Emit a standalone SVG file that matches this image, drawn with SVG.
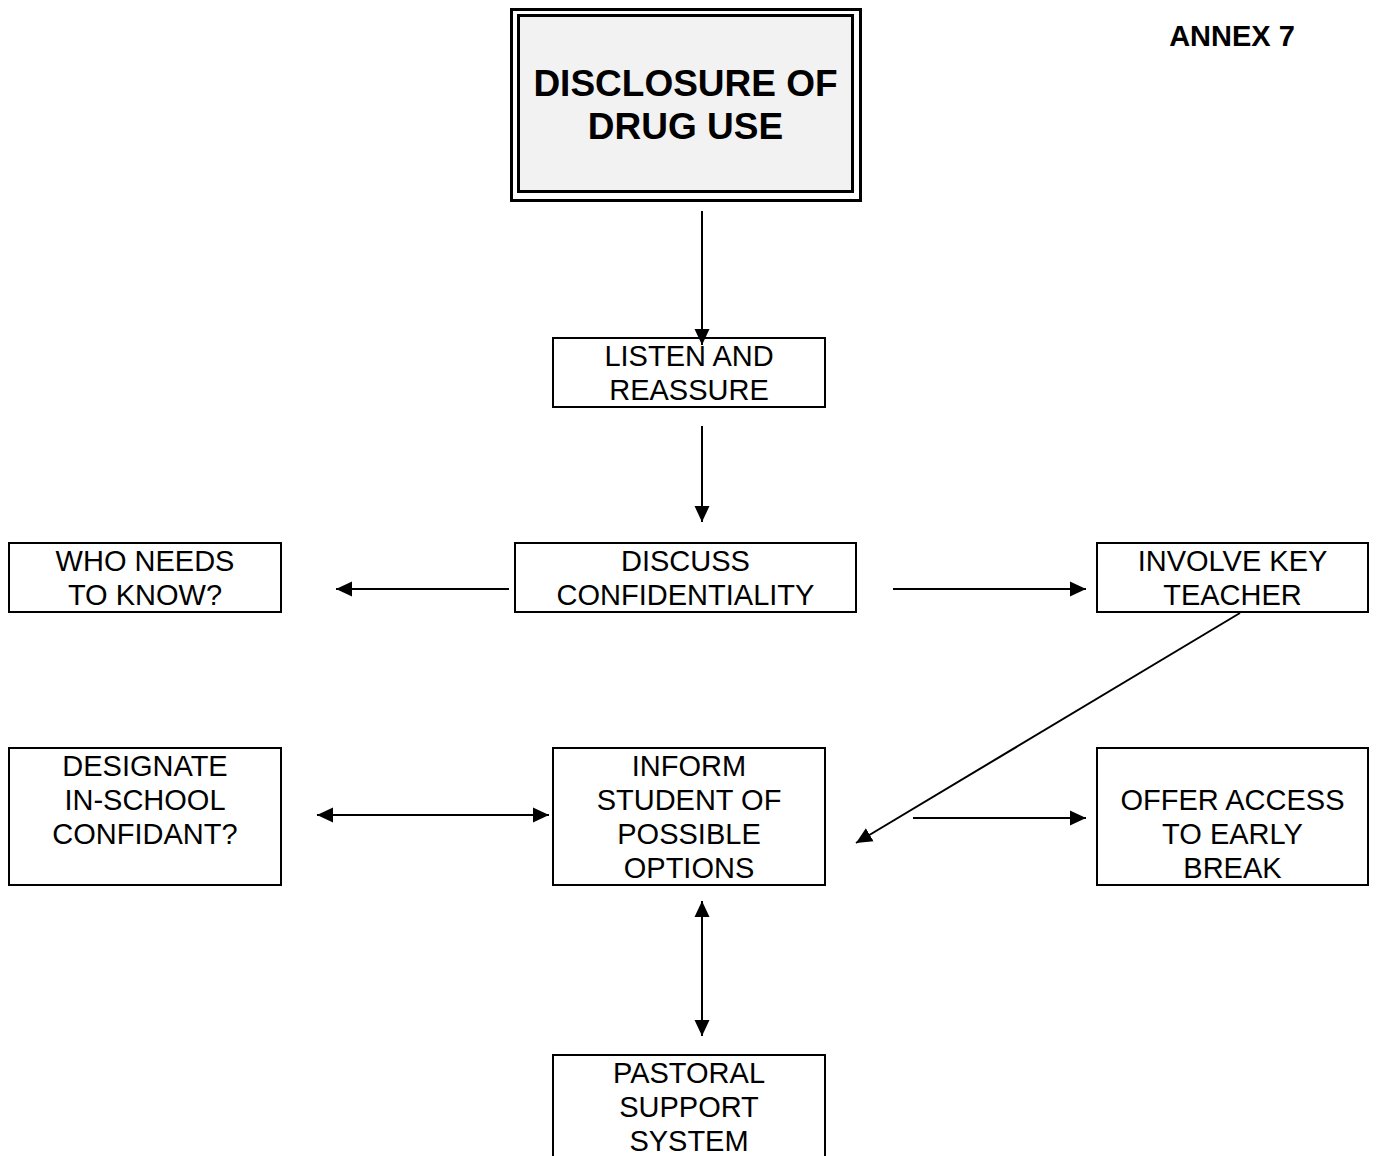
<svg xmlns="http://www.w3.org/2000/svg" width="1377" height="1156" viewBox="0 0 1377 1156">
<defs>
<style>
.box{fill:#fff;stroke:#000;stroke-width:2}
.t{font-family:"Liberation Sans",Arial,sans-serif;font-size:29px;fill:#000;text-anchor:middle}
.b{font-weight:bold}
.c{stroke:#000;stroke-width:2;fill:none}
</style>
<marker id="ah" viewBox="0 0 16 16" refX="16" refY="8" markerWidth="16" markerHeight="16" markerUnits="userSpaceOnUse" orient="auto-start-reverse">
<path d="M0,0.5 L16,8 L0,15.5 Z" fill="#000"/>
</marker>
</defs>
<rect width="1377" height="1156" fill="#fff"/>
<text class="t b" x="1232" y="46">ANNEX 7</text>
<g id="n-disclosure">
<rect x="511.5" y="9.5" width="349" height="191" fill="none" stroke="#000" stroke-width="3"/>
<rect x="518.5" y="15.5" width="334" height="176" fill="#f2f2f2" stroke="#000" stroke-width="3"/>
<text class="t b" style="font-size:37px" x="685.5" y="96">DISCLOSURE OF</text>
<text class="t b" style="font-size:37px" x="685.5" y="139">DRUG USE</text>
</g>
<g id="n-listen">
<rect class="box" x="553" y="338" width="272" height="69"/>
<text class="t" x="689" y="366">LISTEN AND</text>
<text class="t" x="689" y="400">REASSURE</text>
</g>
<g id="n-discuss">
<rect class="box" x="515" y="543" width="341" height="69"/>
<text class="t" x="685.5" y="571">DISCUSS</text>
<text class="t" x="685.5" y="605">CONFIDENTIALITY</text>
</g>
<g id="n-who">
<rect class="box" x="9" y="543" width="272" height="69"/>
<text class="t" x="145" y="571">WHO NEEDS</text>
<text class="t" x="145" y="605">TO KNOW?</text>
</g>
<g id="n-involve">
<rect class="box" x="1097" y="543" width="271" height="69"/>
<text class="t" x="1232.5" y="571">INVOLVE KEY</text>
<text class="t" x="1232.5" y="605">TEACHER</text>
</g>
<g id="n-designate">
<rect class="box" x="9" y="748" width="272" height="137"/>
<text class="t" x="145" y="776">DESIGNATE</text>
<text class="t" x="145" y="810">IN-SCHOOL</text>
<text class="t" x="145" y="844">CONFIDANT?</text>
</g>
<g id="n-inform">
<rect class="box" x="553" y="748" width="272" height="137"/>
<text class="t" x="689" y="776">INFORM</text>
<text class="t" x="689" y="810">STUDENT OF</text>
<text class="t" x="689" y="844">POSSIBLE</text>
<text class="t" x="689" y="878">OPTIONS</text>
</g>
<g id="n-offer">
<rect class="box" x="1097" y="748" width="271" height="137"/>
<text class="t" x="1232.5" y="810">OFFER ACCESS</text>
<text class="t" x="1232.5" y="844">TO EARLY</text>
<text class="t" x="1232.5" y="878">BREAK</text>
</g>
<g id="n-pastoral">
<rect class="box" x="553" y="1055" width="272" height="110"/>
<text class="t" x="689" y="1083">PASTORAL</text>
<text class="t" x="689" y="1117">SUPPORT</text>
<text class="t" x="689" y="1151">SYSTEM</text>
</g>
<g id="connectors">
<line class="c" x1="702" y1="211" x2="702" y2="345" marker-end="url(#ah)"/>
<line class="c" x1="702" y1="426" x2="702" y2="522" marker-end="url(#ah)"/>
<line class="c" x1="509" y1="589" x2="336" y2="589" marker-end="url(#ah)"/>
<line class="c" x1="893" y1="589" x2="1086" y2="589" marker-end="url(#ah)"/>
<line class="c" x1="1240" y1="613" x2="856" y2="843" marker-end="url(#ah)"/>
<line class="c" x1="317" y1="815" x2="549" y2="815" marker-start="url(#ah)" marker-end="url(#ah)"/>
<line class="c" x1="913" y1="818" x2="1086" y2="818" marker-end="url(#ah)"/>
<line class="c" x1="702" y1="901" x2="702" y2="1036" marker-start="url(#ah)" marker-end="url(#ah)"/>
</g>
</svg>
